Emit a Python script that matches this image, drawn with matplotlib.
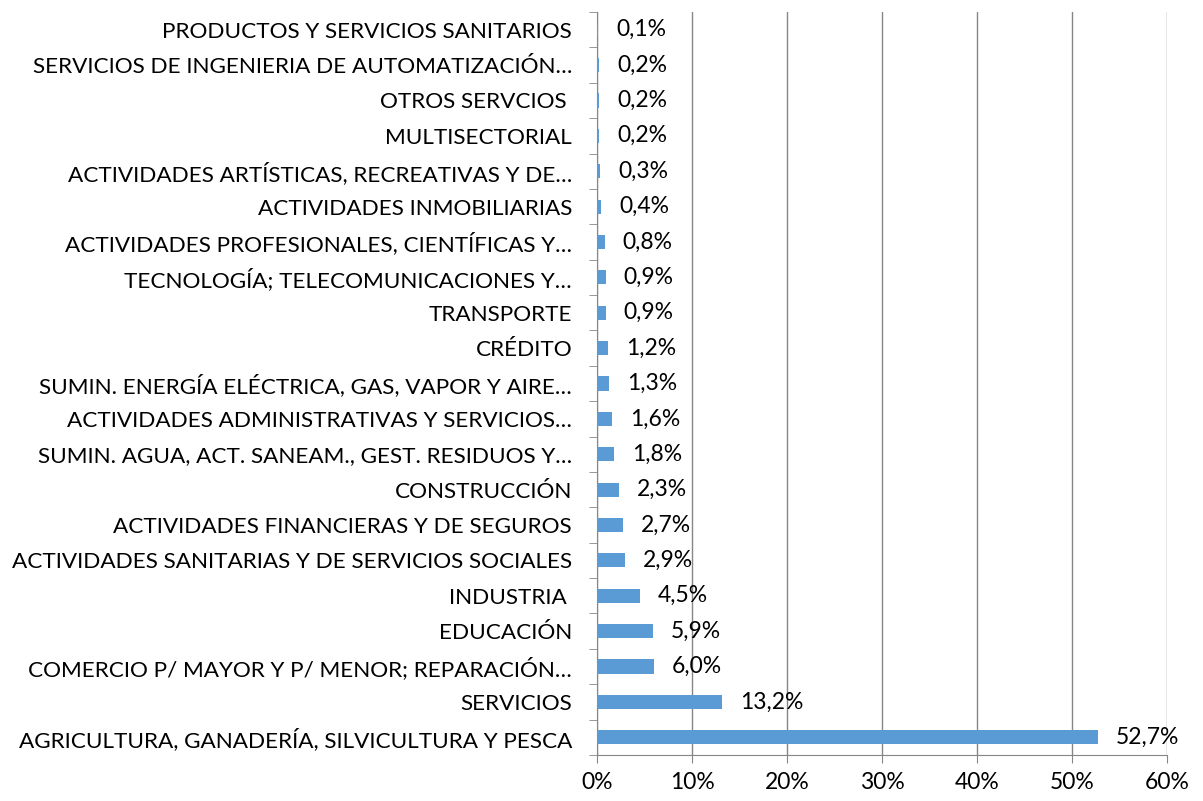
import matplotlib
matplotlib.use("Agg")
import matplotlib.pyplot as plt
from matplotlib.ticker import FixedLocator, NullFormatter

plt.rcParams['font.family'] = ['Lato', 'DejaVu Sans']

# categories top to bottom, as in the chart
sectors = [
    "PRODUCTOS Y SERVICIOS SANITARIOS",
    "SERVICIOS DE INGENIERIA DE AUTOMATIZACIÓN…",
    "OTROS SERVCIOS ",
    "MULTISECTORIAL",
    "ACTIVIDADES ARTÍSTICAS, RECREATIVAS Y DE…",
    "ACTIVIDADES INMOBILIARIAS",
    "ACTIVIDADES PROFESIONALES, CIENTÍFICAS Y…",
    "TECNOLOGÍA; TELECOMUNICACIONES Y…",
    "TRANSPORTE",
    "CRÉDITO",
    "SUMIN. ENERGÍA ELÉCTRICA, GAS, VAPOR Y AIRE…",
    "ACTIVIDADES ADMINISTRATIVAS Y SERVICIOS…",
    "SUMIN. AGUA, ACT. SANEAM., GEST. RESIDUOS Y…",
    "CONSTRUCCIÓN",
    "ACTIVIDADES FINANCIERAS Y DE SEGUROS",
    "ACTIVIDADES SANITARIAS Y DE SERVICIOS SOCIALES",
    "INDUSTRIA ",
    "EDUCACIÓN",
    "COMERCIO P/ MAYOR Y P/ MENOR; REPARACIÓN…",
    "SERVICIOS",
    "AGRICULTURA, GANADERÍA, SILVICULTURA Y PESCA",
]
shares = [0.1, 0.2, 0.2, 0.2, 0.3, 0.4, 0.8, 0.9, 0.9, 1.2, 1.3,
          1.6, 1.8, 2.3, 2.7, 2.9, 4.5, 5.9, 6.0, 13.2, 52.7]
xticks = [0, 10, 20, 30, 40, 50, 60]

fig = plt.figure(figsize=(12.03, 8.01), dpi=100)
ax = fig.add_axes([0.4963, 0.0575, 0.4738, 0.9275])

n = len(sectors)
ypos = list(range(n))[::-1]
ax.barh(ypos, shares, height=0.4, color="#5B9BD5", zorder=3)

for y, v in zip(ypos, shares):
    ax.annotate(f"{v:.1f}%".replace(".", ","), (v, y), xytext=(13, 0),
                textcoords="offset points", ha="left", va="center",
                fontsize=16.5, color="black")

ax.set_xlim(0, 60)
ax.set_ylim(-0.5, n - 0.5)
ax.set_xticks(xticks)
ax.set_xticklabels([f"{t}%" for t in xticks], fontsize=16.5)
ax.set_yticks(ypos)
ax.set_yticklabels(sectors, fontsize=16.2)
ax.tick_params(axis="y", length=0, pad=18)
ax.tick_params(axis="x", length=6, color="#868686", pad=6)

# boundary ticks between categories, Excel style
ax.yaxis.set_minor_locator(FixedLocator([i - 0.5 for i in range(n + 1)]))
ax.yaxis.set_minor_formatter(NullFormatter())
ax.tick_params(axis="y", which="minor", length=6, color="#868686")

ax.grid(axis="x", color="#868686", linewidth=1, zorder=0)
for s in ["top", "right"]:
    ax.spines[s].set_visible(False)
ax.spines["left"].set_color("#868686")
ax.spines["bottom"].set_color("#868686")

fig.savefig("out.png", dpi=100)
